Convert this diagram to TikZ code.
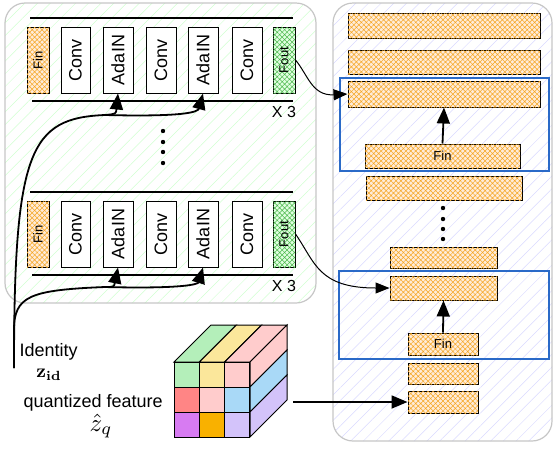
\documentclass[tikz,border=0pt]{standalone}
\usepackage{amsmath}
\usepackage{graphicx}
\usepackage[no-math]{fontspec}
\setmainfont{Liberation Sans}
\usepackage{tikz}
\usetikzlibrary{patterns.meta,arrows.meta}

\definecolor{lgreen}{HTML}{B4EFBA}
\definecolor{lyellow}{HTML}{FBE79B}
\definecolor{lpink}{HTML}{FFCCCC}
\definecolor{lred}{HTML}{FF8585}
\definecolor{lblue}{HTML}{A9D9F7}
\definecolor{lpurple}{HTML}{D77BF2}
\definecolor{lorange}{HTML}{F9B100}
\definecolor{llav}{HTML}{D3C3FA}
\definecolor{hatchor}{HTML}{F5A623}
\definecolor{boxblue}{HTML}{2A6AC8}

\begin{document}
\begin{tikzpicture}[x=1pt,y=-1pt,
    panel/.style={draw=gray!45, line width=1.2pt, rounded corners=20pt},
    layer/.style={draw, line width=1pt, fill=white, inner sep=0pt},
    orbox/.style={draw, line width=1pt, fill=orange!15, inner sep=0pt,
        postaction={pattern={Hatch[angle=45,distance=3.5pt,line width=0.5pt]}, pattern color=hatchor}},
    grbox/.style={draw, line width=1pt, fill=green!12, inner sep=0pt,
        postaction={pattern={Hatch[angle=45,distance=3.5pt,line width=0.5pt]}, pattern color=green!60!black!70}},
    arr/.style={-{Triangle[length=16pt,width=13pt]}, line width=1.8pt},
    thinarr/.style={-{Triangle[length=14pt,width=11pt]}, line width=1pt},
    bluebox/.style={draw=boxblue, line width=1.5pt},
    big/.style={font=\fontsize{18}{20}\selectfont},
    small/.style={font=\fontsize{13}{15}\selectfont}]
\useasboundingbox (0,0) rectangle (554,448);

% panels
\draw[panel, pattern={Lines[angle=45,distance=9pt,line width=0.5pt]}, pattern color=green!18]
    (5,3) rectangle (316,303);
\draw[panel, pattern={Lines[angle=45,distance=9pt,line width=0.5pt]}, pattern color=blue!15]
    (333,3) rectangle (552,441);

% the two residual blocks
\foreach \n/\y in {t/60, b/234} {
    \draw[line width=1.8pt] (30,\y-42) -- (293,\y-42);
    \draw[line width=1.8pt] (32,\y+41) -- (293,\y+41);
    \node[orbox, minimum width=22, minimum height=66, small] (\n-fin) at (38,\y) {\rotatebox{90}{Fin}};
    \node[layer, minimum width=29, minimum height=66, big] (\n-c1) at (75.5,\y) {\rotatebox{90}{Conv}};
    \node[layer, minimum width=30, minimum height=66, big] (\n-a1) at (118,\y) {\rotatebox{90}{AdaIN}};
    \node[layer, minimum width=30, minimum height=66, big] (\n-c2) at (161,\y) {\rotatebox{90}{Conv}};
    \node[layer, minimum width=30, minimum height=66, big] (\n-a2) at (203,\y) {\rotatebox{90}{AdaIN}};
    \node[layer, minimum width=30, minimum height=66, big] (\n-c3) at (247,\y) {\rotatebox{90}{Conv}};
    \node[grbox, minimum width=22, minimum height=66, small] (\n-fout) at (284,\y) {\rotatebox{90}{Fout}};
    \node[font=\fontsize{16}{18}\selectfont] (\n-x) at (284,\y+52) {X 3};
}

% dots
\foreach \d in {131,142,152,163} \fill (163,\d) circle (2.2);
\foreach \d in {208,219,229,239} \fill (443,\d) circle (2.2);

% right column
\node[orbox, minimum width=192, minimum height=25] (r1) at (444,25.5) {};
\node[orbox, minimum width=192, minimum height=24] (r2) at (444,62) {};
\node[orbox, minimum width=192, minimum height=26] (r3) at (444,94) {};
\node[orbox, minimum width=155, minimum height=24, small] (r4) at (442.5,156) {Fin};
\node[orbox, minimum width=156, minimum height=24] (r5) at (444,188) {};
\node[orbox, minimum width=107, minimum height=21] (r6) at (443.5,257.5) {};
\node[orbox, minimum width=107, minimum height=24] (r7) at (443.5,288) {};
\node[orbox, minimum width=70, minimum height=22, small] (r8) at (443,344) {Fin};
\node[orbox, minimum width=70, minimum height=21] (r9) at (443,373.5) {};
\node[orbox, minimum width=70, minimum height=22] (r10) at (443,402) {};
\draw[bluebox] (340,78) rectangle (549,171);
\draw[bluebox] (339,271) rectangle (549,359);
\draw[arr] (r4.north) -- (r3.south);
\draw[arr] (r8.north) -- (r7.south);

% identity paths
\coordinate (id) at (14,368);
\coordinate (tk) at (105,115);
\coordinate (bk) at (105,287);
\draw[arr] (id) .. controls (14,150) and (30,118) .. (tk) .. controls (116,114) .. (t-a1.south);
\draw[arr] (tk) .. controls (185,117) and (198,112) .. (t-a2.south);
\draw[line width=1.8pt] (id) -- (14,330) .. controls (14,296) and (30,290) .. (bk);
\draw[arr] (bk) .. controls (114,287) .. (b-a1.south);
\draw[arr] (bk) .. controls (185,289) and (198,284) .. (b-a2.south);

% block outputs
\draw[thinarr] (t-fout.east) .. controls (308,75) and (312,96) .. (r3.west);
\draw[thinarr] (b-fout.east) .. controls (315,262) and (318,288) .. (r7.west);

% feature cube
\foreach \c [count=\i from 0] in {lgreen,lyellow,lpink}
    \filldraw[fill=\c, line width=1pt] (174+25.33*\i,362) -- ++(37,-37) -- ++(25.33,0) -- ++(-37,37) -- cycle;
\foreach \c [count=\j from 0] in {lpink,lblue,llav}
    \filldraw[fill=\c, line width=1pt] (250,362+25*\j) -- ++(37,-37) -- ++(0,25) -- ++(-37,37) -- cycle;
\foreach \c [count=\k from 0] in {lgreen,lyellow,lpink,lred,lpink,lblue,lpurple,lorange,llav} {
    \pgfmathtruncatemacro{\cc}{mod(\k,3)}
    \pgfmathtruncatemacro{\rr}{div(\k,3)}
    \filldraw[fill=\c, line width=1pt] (174+25.33*\cc,362+25*\rr) rectangle ++(25.33,25);
}
\coordinate (cube) at (293,402);
\draw[arr] (cube) -- (r10.west);

% labels
\node[big, anchor=west] (ident) at (16,352) {Identity};
\node (zid) at (49,375) {\scalebox{1.9}{$\mathbf{z}_{\mathbf{id}}$}};
\node[big, anchor=west] (quant) at (20,403) {quantized feature};
\node (zq) at (101,426) {\scalebox{2.5}{$\hat{z}_q$}};
\end{tikzpicture}
\end{document}
